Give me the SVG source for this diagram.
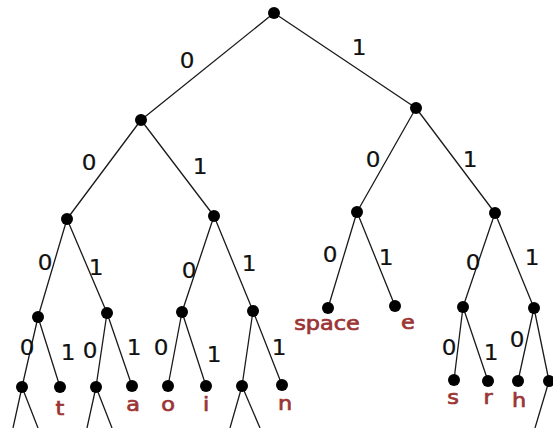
<svg xmlns="http://www.w3.org/2000/svg" width="553" height="428" viewBox="0 0 553 428">
<style>
.e{stroke:#1a1a1a;stroke-width:1.3;fill:none}
.n{fill:#000}
.d{font-family:"DejaVu Sans",sans-serif;font-size:21px;fill:#111;stroke:#111;stroke-width:0.2;text-anchor:middle}
.l{font-family:"DejaVu Sans",sans-serif;font-size:20px;fill:#9b3434;stroke:#9b3434;stroke-width:0.7;text-anchor:middle}
</style>
<rect width="553" height="428" fill="#fff"/>
<g id="connectors" class="e">
<path d="M274,13L141,120M274,13L416,108"/>
<path d="M141,120L67,219M141,120L214,216M416,108L357,212M416,108L495,213"/>
<path d="M67,219L38,317M67,219L107,313M214,216L182,312M214,216L253,311M357,212L328,308M357,212L395,306M495,213L463,307M495,213L534,308"/>
<path d="M38,317L22,387M38,317L60,387M107,313L96,387M107,313L132,386M182,312L168,386M182,312L206,386M253,311L242,386M253,311L282,385M463,307L454,380M463,307L488,381M534,308L518,381M534,308L549,381"/>
<path d="M22,387L13,428M22,387L38,428M96,387L87,428M96,387L112,428M242,386L230,428M242,386L260,428M549,381L535,428"/>
</g>
<g id="labels">
<text class="d" transform="translate(187,68) scale(1.1,1)">0</text>
<text class="d" transform="translate(359,55) scale(1.1,1)">1</text>
<text class="d" transform="translate(89,170) scale(1.1,1)">0</text>
<text class="d" transform="translate(200,174) scale(1.1,1)">1</text>
<text class="d" transform="translate(373,167) scale(1.1,1)">0</text>
<text class="d" transform="translate(470,167) scale(1.1,1)">1</text>
<text class="d" transform="translate(45,270) scale(1.1,1)">0</text>
<text class="d" transform="translate(96,275) scale(1.1,1)">1</text>
<text class="d" transform="translate(189,278) scale(1.1,1)">0</text>
<text class="d" transform="translate(249,271) scale(1.1,1)">1</text>
<text class="d" transform="translate(330,262) scale(1.1,1)">0</text>
<text class="d" transform="translate(386,265) scale(1.1,1)">1</text>
<text class="d" transform="translate(473,270) scale(1.1,1)">0</text>
<text class="d" transform="translate(532,265) scale(1.1,1)">1</text>
<text class="d" transform="translate(27,355) scale(1.1,1)">0</text>
<text class="d" transform="translate(68,360) scale(1.1,1)">1</text>
<text class="d" transform="translate(90,358) scale(1.1,1)">0</text>
<text class="d" transform="translate(134,355) scale(1.1,1)">1</text>
<text class="d" transform="translate(161,355) scale(1.1,1)">0</text>
<text class="d" transform="translate(214,362) scale(1.1,1)">1</text>
<text class="d" transform="translate(279,355) scale(1.1,1)">1</text>
<text class="d" transform="translate(449,355) scale(1.1,1)">0</text>
<text class="d" transform="translate(491,360) scale(1.1,1)">1</text>
<text class="d" transform="translate(517,347) scale(1.1,1)">0</text>
</g>
<g id="root"><circle class="n" cx="274" cy="13" r="6"/></g>
<g id="n0"><circle class="n" cx="141" cy="120" r="6"/></g>
<g id="n1"><circle class="n" cx="416" cy="108" r="6"/></g>
<g id="n00"><circle class="n" cx="67" cy="219" r="6"/></g>
<g id="n01"><circle class="n" cx="214" cy="216" r="6"/></g>
<g id="n10"><circle class="n" cx="357" cy="212" r="6"/></g>
<g id="n11"><circle class="n" cx="495" cy="213" r="6"/></g>
<g id="n000"><circle class="n" cx="38" cy="317" r="6"/></g>
<g id="n001"><circle class="n" cx="107" cy="313" r="6"/></g>
<g id="n010"><circle class="n" cx="182" cy="312" r="6"/></g>
<g id="n011"><circle class="n" cx="253" cy="311" r="6"/></g>
<g id="leaf-space"><circle class="n" cx="328" cy="308" r="6"/><text class="l" transform="translate(327,330) scale(1.12,1)">space</text></g>
<g id="leaf-e"><circle class="n" cx="395" cy="306" r="6"/><text class="l" transform="translate(408,329) scale(1.12,1)">e</text></g>
<g id="n110"><circle class="n" cx="463" cy="307" r="6"/></g>
<g id="n111"><circle class="n" cx="534" cy="308" r="6"/></g>
<g id="n0000"><circle class="n" cx="22" cy="387" r="6"/></g>
<g id="leaf-t"><circle class="n" cx="60" cy="387" r="6"/><text class="l" transform="translate(60,415) scale(1.12,1)">t</text></g>
<g id="n0010"><circle class="n" cx="96" cy="387" r="6"/></g>
<g id="leaf-a"><circle class="n" cx="132" cy="386" r="6"/><text class="l" transform="translate(133,411) scale(1.12,1)">a</text></g>
<g id="leaf-o"><circle class="n" cx="168" cy="386" r="6"/><text class="l" transform="translate(168,411) scale(1.12,1)">o</text></g>
<g id="leaf-i"><circle class="n" cx="206" cy="386" r="6"/><text class="l" transform="translate(206,411) scale(1.12,1)">i</text></g>
<g id="n0110"><circle class="n" cx="242" cy="386" r="6"/></g>
<g id="leaf-n"><circle class="n" cx="282" cy="385" r="6"/><text class="l" transform="translate(285,410) scale(1.12,1)">n</text></g>
<g id="leaf-s"><circle class="n" cx="454" cy="380" r="6"/><text class="l" transform="translate(453,404) scale(1.12,1)">s</text></g>
<g id="leaf-r"><circle class="n" cx="488" cy="381" r="6"/><text class="l" transform="translate(488,404) scale(1.12,1)">r</text></g>
<g id="leaf-h"><circle class="n" cx="518" cy="381" r="6"/><text class="l" transform="translate(519,407) scale(1.12,1)">h</text></g>
<g id="n1111"><circle class="n" cx="549" cy="381" r="6"/></g>
</svg>
